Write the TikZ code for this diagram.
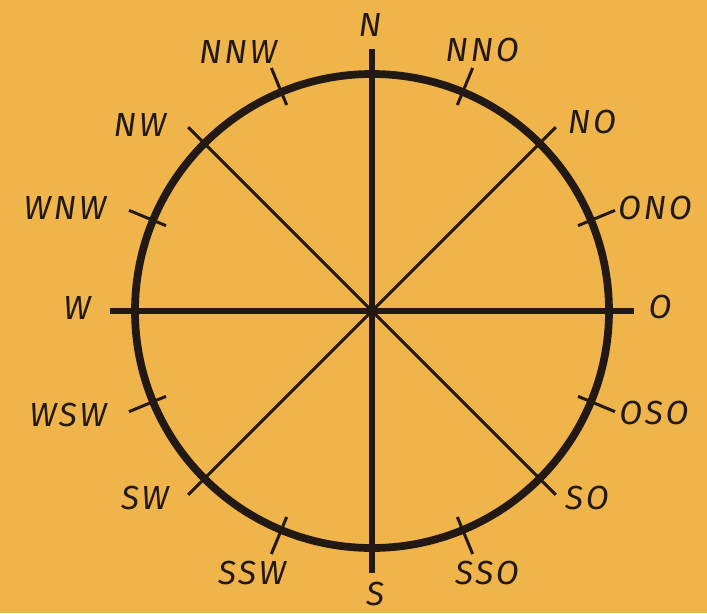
\documentclass[tikz,border=0pt]{standalone}
\usepackage{fontspec}
\setmainfont{Fira Sans}[LetterSpace=8]
\usetikzlibrary{positioning}
\definecolor{paper}{RGB}{240,181,74}
\definecolor{ink}{RGB}{35,25,20}

\begin{document}
\begin{tikzpicture}[x=0.02cm,y=0.02cm,
  ring/.style={draw=ink,line width=4.4pt},
  axis/.style={draw=ink,line width=3.9pt},
  diag/.style={draw=ink,line width=1.8pt},
  tick/.style={draw=ink,line width=1.7pt},
  lb/.style={text=ink,inner sep=0pt,font=\fontsize{19}{19}\selectfont\itshape}]
  \useasboundingbox[fill=paper] (-372,-302) rectangle (335,311);
  \coordinate (M) at (0,0);
  \draw[ring] (M) circle [radius=237];
  % main axes and diagonals
  \foreach \a/\n in {90/N,0/O,270/S,180/W}
    \coordinate (e\n) at (\a:262);
  \foreach \a/\n in {45/NO,135/NW,225/SW,315/SO}
    \coordinate (e\n) at (\a:260);
  \draw[axis] (eN) -- (eS);
  \draw[axis] (eW) -- (eO);
  \draw[diag] (eNO) -- (eSW);
  \draw[diag] (eNW) -- (eSO);
  % short ticks
  \foreach \a/\n in {67.5/NNO,22.5/ONO,-22.5/OSO,-67.5/SSO,
                     -112.5/SSW,-157.5/WSW,157.5/WNW,112.5/NNW}{
    \coordinate (i\n) at (\a:223);
    \coordinate (o\n) at (\a:263);
    \draw[tick] (i\n) -- (o\n);
  }
  % labels
  \node[lb] (N)   at (-2,286)    {N};
  \node[lb] (NNO) at (110,261)   {NNO};
  \node[lb] (NO)  at (220,189)   {NO};
  \node[lb] (ONO) at (283,103)   {ONO};
  \node[lb] (O)   at (288,4)     {O};
  \node[lb] (OSO) at (282,-102)  {OSO};
  \node[lb] (SO)  at (215,-187)  {SO};
  \node[lb] (SSO) at (115,-262)  {SSO};
  \node[lb] (S)   at (3,-283)    {S};
  \node[lb] (SSW) at (-120,-262) {SSW};
  \node[lb] (SW)  at (-227,-187) {SW};
  \node[lb] (WSW) at (-304,-104) {WSW};
  \node[lb] (W)   at (-295,3)    {W};
  \node[lb] (WNW) at (-307,103)  {WNW};
  \node[lb] (NW)  at (-232,186)  {NW};
  \node[lb] (NNW) at (-134,259)  {NNW};
\end{tikzpicture}
\end{document}
